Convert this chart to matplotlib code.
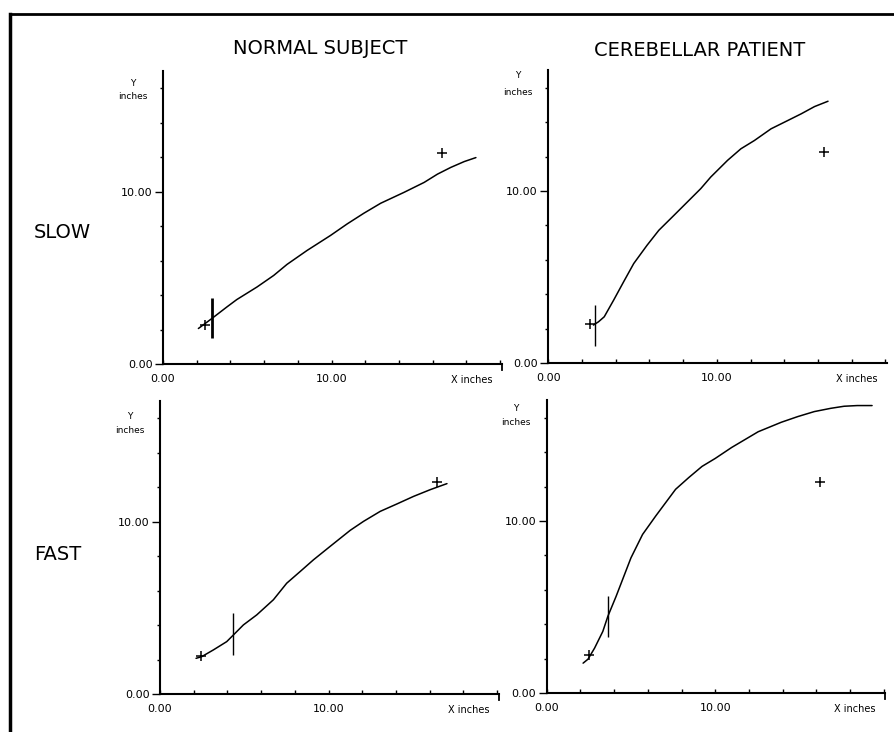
import matplotlib
matplotlib.use("Agg")
import matplotlib.pyplot as plt
from matplotlib.lines import Line2D
from matplotlib.ticker import MultipleLocator, FixedLocator, FixedFormatter

plt.rcParams['font.family'] = ['DejaVu Sans']

# ---------------- data (inches) ----------------
col_titles = ["NORMAL SUBJECT", "CEREBELLAR PATIENT"]
row_titles = ["SLOW", "FAST"]

# Normal subject, slow
ns_x = [2.10, 2.90, 3.79, 4.38, 5.58, 6.57, 7.36, 8.55, 9.94, 10.93, 11.92, 12.92, 14.30, 15.50, 16.29, 17.08, 17.88, 18.57]
ns_y = [2.06, 2.64, 3.31, 3.74, 4.47, 5.14, 5.78, 6.59, 7.46, 8.13, 8.75, 9.33, 9.96, 10.54, 11.02, 11.41, 11.75, 11.98]
ns_cross_x = [2.50, 16.53]
ns_cross_y = [2.25, 12.27]
ns_bar = (2.90, 1.48, 3.83)

# Cerebellar patient, slow
cs_x = [2.68, 2.98, 3.32, 3.88, 4.47, 5.07, 5.86, 6.56, 7.46, 8.25, 9.05, 9.64, 10.64, 11.43, 12.23, 13.22, 14.21, 15.01, 15.80, 16.60]
cs_y = [2.22, 2.41, 2.70, 3.67, 4.73, 5.79, 6.85, 7.72, 8.59, 9.36, 10.14, 10.81, 11.78, 12.45, 12.93, 13.61, 14.09, 14.48, 14.90, 15.21]
cs_cross_x = [2.45, 16.36]
cs_cross_y = [2.26, 12.26]
cs_bar = (2.80, 1.00, 3.38)

# Normal subject, fast
nf_x = [2.14, 2.48, 3.17, 3.96, 4.36, 4.95, 5.74, 6.73, 7.52, 8.32, 9.11, 10.10, 11.29, 12.08, 13.07, 14.06, 15.05, 16.04, 17.03]
nf_y = [2.07, 2.17, 2.56, 3.04, 3.43, 4.01, 4.59, 5.47, 6.43, 7.11, 7.79, 8.57, 9.50, 10.02, 10.60, 11.03, 11.47, 11.86, 12.21]
nf_cross_x = [2.42, 16.44]
nf_cross_y = [2.21, 12.29]
nf_bar = (4.36, 2.27, 4.69)

# Cerebellar patient, fast
cf_x = [2.16, 2.45, 2.84, 3.33, 3.63, 4.12, 5.00, 5.69, 6.47, 7.65, 8.43, 9.22, 10.00, 10.98, 12.55, 13.92, 14.90, 15.88, 16.86, 17.65, 18.43, 19.31]
cf_y = [1.75, 1.98, 2.62, 3.59, 4.47, 5.63, 7.86, 9.22, 10.29, 11.84, 12.52, 13.17, 13.63, 14.27, 15.18, 15.73, 16.06, 16.35, 16.54, 16.66, 16.70, 16.70]
cf_cross_x = [2.51, 16.24]
cf_cross_y = [2.23, 12.27]
cf_bar = (3.63, 3.26, 5.67)

x_tick_vals = [0, 10]
x_tick_labels = ["0.00", "10.00"]
y_tick_vals = [0, 10]
y_tick_labels = ["0.00", "10.00"]

XMAX = 20.1
YMAX = 17.0

# ---------------- figure ----------------
W, H = 894, 732
fig = plt.figure(figsize=(W / 100, H / 100), dpi=100)

SX, SY = 16.85, 17.23  # px per inch on the plots

panels = [
    (163.0, 364.0, (ns_x, ns_y, ns_cross_x, ns_cross_y, ns_bar), 2.0, True, (12, 25)),
    (548.3, 363.3, (cs_x, cs_y, cs_cross_x, cs_cross_y, cs_bar), 1.0, False, (5, 22)),
    (160.0, 694.0, (nf_x, nf_y, nf_cross_x, nf_cross_y, nf_bar), 1.0, True, (15, 29)),
    (546.7, 693.3, (cf_x, cf_y, cf_cross_x, cf_cross_y, cf_bar), 1.0, True, (8, 22)),
]

for ox, oy, (cx, cy, px, py, bar), bar_lw, end_tick, (yo1, yo2) in panels:
    w = XMAX * SX
    h = YMAX * SY
    ax = fig.add_axes([ox / W, (H - oy) / H, w / W, h / H])
    ax.set_xlim(0, XMAX)
    ax.set_ylim(0, YMAX)
    ax.patch.set_alpha(0)
    for s in ("top", "right"):
        ax.spines[s].set_visible(False)
    ax.spines["left"].set_linewidth(1.5)
    ax.spines["bottom"].set_linewidth(1.5)

    ax.xaxis.set_major_locator(FixedLocator(x_tick_vals))
    ax.xaxis.set_major_formatter(FixedFormatter(x_tick_labels))
    ax.xaxis.set_minor_locator(MultipleLocator(2))
    ax.yaxis.set_major_locator(FixedLocator(y_tick_vals))
    ax.yaxis.set_major_formatter(FixedFormatter(y_tick_labels))
    ax.yaxis.set_minor_locator(MultipleLocator(2))

    ax.tick_params(axis="x", which="both", direction="in", length=3, width=1.0, labelsize=8, pad=7)
    ax.tick_params(axis="y", which="major", direction="out", length=6, width=1.0, labelsize=8, pad=1.5)
    ax.tick_params(axis="y", which="minor", direction="out", length=2.5, width=1.0)

    ax.plot(cx, cy, color="black", lw=1.1, solid_capstyle="round")
    ax.plot(px, py, linestyle="none", marker="+", markersize=7, mew=1.1, color="black")
    ax.vlines(bar[0], bar[1], bar[2], color="black", lw=bar_lw)

    if end_tick:
        ax.plot([XMAX, XMAX], [0, -0.35], color="black", lw=1.3, clip_on=False)

    ax.annotate("X inches", xy=(18.3, 0), xycoords="data", xytext=(0, -11.5),
                textcoords="offset points", ha="center", va="center", fontsize=7)
    ax.annotate("Y", xy=(0, 1), xycoords="axes fraction", xytext=(-22, -yo1 * 0.72),
                textcoords="offset points", ha="center", va="center", fontsize=6.5)
    ax.annotate("inches", xy=(0, 1), xycoords="axes fraction", xytext=(-22, -yo2 * 0.72),
                textcoords="offset points", ha="center", va="center", fontsize=6.5)

fig.text(320 / W, 1 - 49 / H, col_titles[0], ha="center", va="center", fontsize=14)
fig.text(700 / W, 1 - 51 / H, col_titles[1], ha="center", va="center", fontsize=14)
fig.text(62 / W, 1 - 232 / H, row_titles[0], ha="center", va="center", fontsize=14)
fig.text(58 / W, 1 - 555 / H, row_titles[1], ha="center", va="center", fontsize=14)

fig.add_artist(Line2D([10 / W, 10 / W], [0, 1 - 14 / H], color="black", lw=2.5, transform=fig.transFigure))
fig.add_artist(Line2D([10 / W, 1], [1 - 14 / H, 1 - 14 / H], color="black", lw=2.0, transform=fig.transFigure))

fig.savefig("out.png", dpi=100)
